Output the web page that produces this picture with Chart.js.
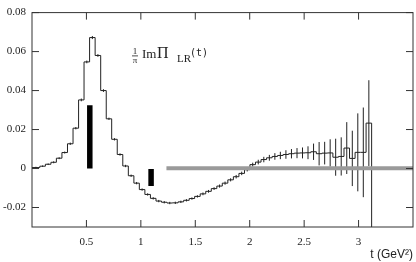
<!DOCTYPE html>
<html>
<head>
<meta charset="utf-8">
<script src="https://cdn.jsdelivr.net/npm/chart.js@4"></script>
<style>
  html, body { margin: 0; padding: 0; background: #fff; }
  canvas { display: block; }
</style>
</head>
<body>
<canvas id="myChart" width="416" height="262"></canvas>
<script>
// bin edges in t (GeV^2), first bin starts at the axis
const binEdges = [0, 0.072, 0.123, 0.174, 0.224, 0.275, 0.326, 0.377, 0.428, 0.478, 0.529,
  0.580, 0.631, 0.682, 0.732, 0.783, 0.834, 0.885, 0.936, 0.986, 1.037,
  1.088, 1.139, 1.190, 1.240, 1.291, 1.342, 1.393, 1.444, 1.494, 1.545,
  1.596, 1.647, 1.698, 1.748, 1.799, 1.850, 1.901, 1.952, 2.002, 2.053,
  2.104, 2.155, 2.206, 2.256, 2.307, 2.358, 2.409, 2.460, 2.510, 2.561,
  2.612, 2.663, 2.714, 2.764, 2.815, 2.866, 2.917, 2.968, 3.018, 3.069, 3.120]

// 1/pi Im Pi_LR per bin
const imPiValues = [0.0005, 0.0012, 0.0022, 0.0032, 0.0053, 0.0082, 0.0127, 0.0207, 0.0352, 0.0547,
  0.0672, 0.058, 0.040, 0.0255, 0.015, 0.0072, 0.0013, -0.0037, -0.0075, -0.0108,
  -0.0133, -0.0153, -0.0167, -0.0173, -0.0177, -0.0176, -0.0171, -0.0163, -0.0154, -0.0143,
  -0.013, -0.0117, -0.0103, -0.009, -0.0075, -0.0058, -0.0042, -0.0025, -0.0006, 0.002,
  0.0033, 0.0046, 0.0055, 0.0062, 0.0067, 0.0072, 0.0076, 0.0079, 0.008, 0.0081,
  0.0086, 0.0076, 0.0079, 0.008, 0.0058, 0.0062, 0.0105, 0.0052, 0.0083, 0.0083,
  0.0233]

const imPiErrors = [0.0004, 0.0004, 0.0004, 0.0005, 0.0005, 0.0005, 0.0006, 0.0006, 0.0007, 0.0007,
  0.0008, 0.0007, 0.0007, 0.0006, 0.0006, 0.0006, 0.0006, 0.0006, 0.0006, 0.0006,
  0.0006, 0.0006, 0.0006, 0.0006, 0.0006, 0.0006, 0.0006, 0.0006, 0.0006, 0.0006,
  0.0007, 0.0007, 0.0007, 0.0008, 0.0008, 0.0008, 0.0009, 0.0009, 0.0009, 0.001,
  0.0012, 0.0014, 0.0015, 0.0017, 0.0019, 0.0022, 0.0024, 0.0026, 0.0028, 0.0033,
  0.0042, 0.006, 0.0058, 0.007, 0.0095, 0.0098, 0.0133, 0.0142, 0.02, 0.023,
  0.022]

// black bars: [t, yFrom, yTo]
const blackBars = [[0.531, 0, 0.0325], [1.094, -0.0003, -0.009]]
// grey band at zero
const greyBand = { from: 1.235, to: 3.5, y: 0.0002 }

const xTicks = [0.5, 1, 1.5, 2, 2.5, 3]
const yTicks = [-0.02, 0, 0.02, 0.04, 0.06, 0.08]

// histogram as step line
const histo = binEdges.slice(0, -1).map((e, i) => ({ x: e, y: imPiValues[i] }))
histo.push({ x: binEdges[binEdges.length - 1], y: imPiValues[imPiValues.length - 1] })
histo.push({ x: binEdges[binEdges.length - 1], y: -0.06 })

// error bars, separated by nulls
const errBars = []
imPiValues.forEach((v, i) => {
  const c = (binEdges[i] + binEdges[i + 1]) / 2
  errBars.push({ x: c, y: v - imPiErrors[i] }, { x: c, y: v + imPiErrors[i] }, { x: c, y: null })
})

const barSets = blackBars.map(b => ({
  data: [{ x: b[0], y: b[1] }, { x: b[0], y: b[2] }],
  borderColor: '#000',
  borderWidth: 5.5,
  borderCapStyle: 'butt',
  pointRadius: 0
}))

const framePlugin = {
  id: 'frame',
  afterDraw (chart) {
    const { ctx, chartArea: a, scales } = chart
    ctx.save()
    ctx.strokeStyle = '#333'
    ctx.lineWidth = 1
    ctx.strokeRect(a.left, a.top, a.right - a.left, a.bottom - a.top)
    ctx.beginPath()
    xTicks.forEach(v => {
      const px = scales.x.getPixelForValue(v)
      ctx.moveTo(px, a.bottom); ctx.lineTo(px, a.bottom - 7)
      ctx.moveTo(px, a.top); ctx.lineTo(px, a.top + 7)
    })
    yTicks.forEach(v => {
      const py = scales.y.getPixelForValue(v)
      ctx.moveTo(a.left, py); ctx.lineTo(a.left + 7, py)
      ctx.moveTo(a.right, py); ctx.lineTo(a.right - 7, py)
    })
    ctx.stroke()

    // label 1/pi Im Pi_LR(t)
    ctx.fillStyle = '#222'
    ctx.textBaseline = 'alphabetic'
    ctx.textAlign = 'center'
    ctx.font = '9px "Liberation Serif"'
    ctx.fillText('1', 135, 54)
    ctx.fillText('π', 135, 63)
    ctx.fillRect(132, 55.5, 6, 0.8)
    ctx.textAlign = 'left'
    ctx.font = '13px "Liberation Serif"'
    ctx.fillText('Im', 142, 58)
    ctx.font = '16px "Liberation Serif"'
    ctx.fillText('Π', 157, 58)
    ctx.font = '11px "Liberation Serif"'
    ctx.fillText('LR', 177, 62)
    ctx.font = '10px "DejaVu Sans Mono"'
    ctx.fillText('(t)', 190, 56)
    ctx.restore()
  }
}

const ctx = document.getElementById('myChart').getContext('2d')
const myChart = new Chart(ctx, {
  type: 'line',
  data: {
    datasets: [
      {
        data: [{ x: greyBand.from, y: greyBand.y }, { x: greyBand.to, y: greyBand.y }],
        borderColor: '#9a9a9a',
        borderWidth: 4,
        borderCapStyle: 'butt',
        pointRadius: 0
      },
      ...barSets,
      {
        data: errBars,
        borderColor: '#222',
        borderWidth: 1,
        pointRadius: 0,
        spanGaps: false
      },
      {
        data: histo,
        stepped: 'before',
        borderColor: '#222',
        borderWidth: 1,
        pointRadius: 0
      }
    ]
  },
  options: {
    responsive: false,
    animation: false,
    devicePixelRatio: 1,
    layout: { padding: { top: 7, right: 3, left: 0, bottom: 0 } },
    plugins: { legend: { display: false }, tooltip: { enabled: false } },
    scales: {
      x: {
        type: 'linear',
        min: 0,
        max: 3.5,
        grid: { display: false, drawTicks: false },
        border: { display: false },
        afterBuildTicks: s => { s.ticks = xTicks.map(v => ({ value: v })) },
        afterFit: s => { s.height = 35 },
        ticks: {
          padding: 9,
          maxRotation: 0,
          color: '#222',
          font: { family: 'Liberation Serif', size: 11 },
          callback: v => String(v)
        },
        title: {
          display: true,
          text: 't (GeV²)',
          align: 'end',
          color: '#222',
          padding: { top: 0, bottom: 0 },
          font: { family: 'Liberation Sans', size: 12 }
        }
      },
      y: {
        min: -0.03,
        max: 0.08,
        grid: { display: false, drawTicks: false },
        border: { display: false },
        afterBuildTicks: s => { s.ticks = yTicks.map(v => ({ value: v })) },
        afterFit: s => { s.width = 32 },
        ticks: {
          padding: 6,
          color: '#222',
          font: { family: 'Liberation Serif', size: 11 },
          callback: v => v === 0 ? '0' : v.toFixed(2)
        }
      }
    }
  },
  plugins: [framePlugin]
})
</script>
</body>
</html>
